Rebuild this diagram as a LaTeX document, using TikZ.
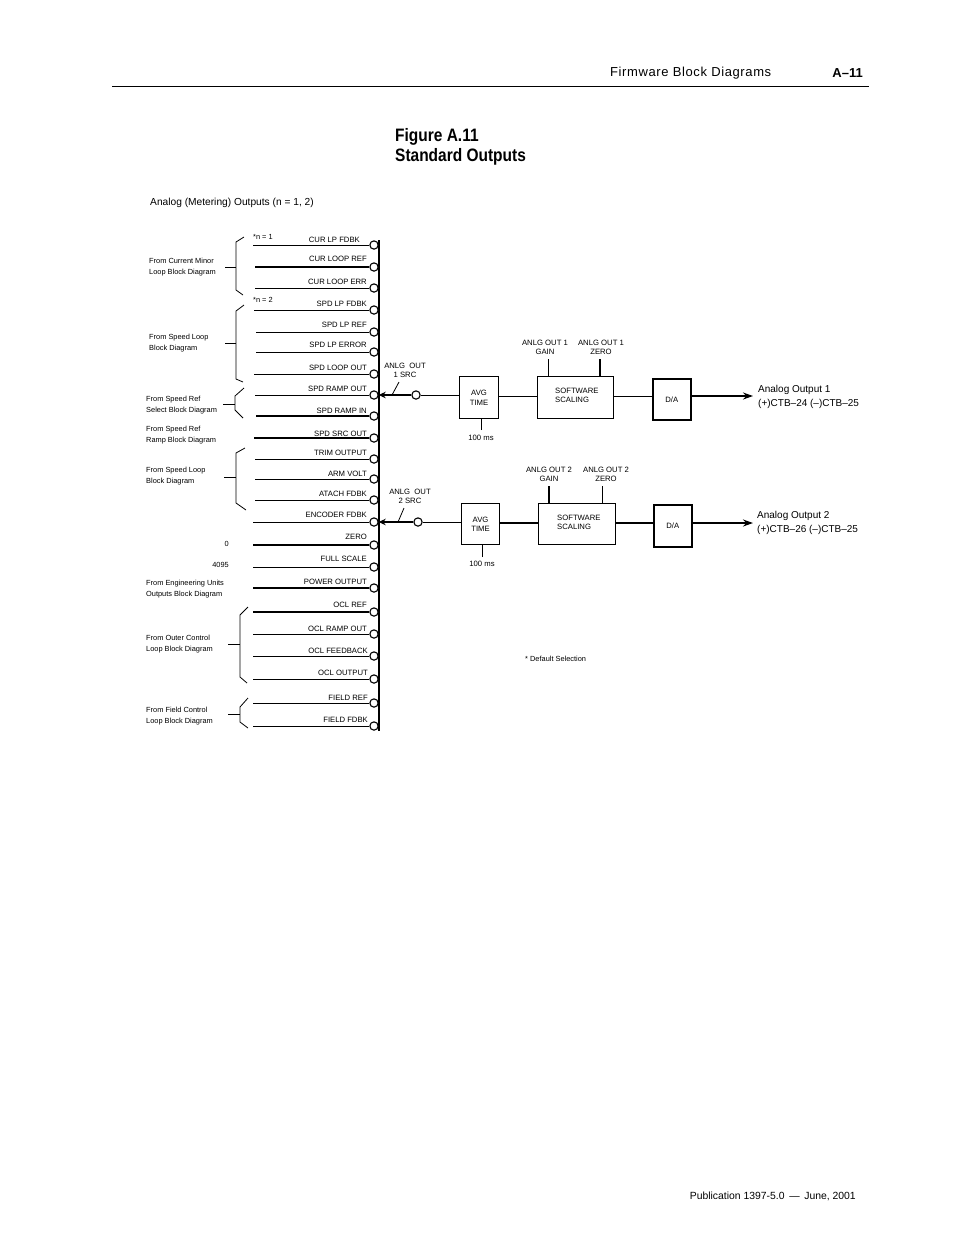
\documentclass[tikz,border=0pt]{standalone}
\usepackage{fontspec}
\setmainfont{Liberation Sans}
\newfontfamily\titlefont[FakeStretch=0.86]{Liberation Sans}
\usetikzlibrary{arrows.meta}
\tikzset{wire/.style={draw=black, line width=0.8pt},
         heavy/.style={draw=black, line width=1.6pt},
         tap/.style={circle, draw=black, line width=1.1pt, fill=white, minimum size=8.3pt, inner sep=0pt},
         lbl/.style={font=\fontsize{7.7}{9.5}\selectfont, inner sep=0pt, align=center, yshift=-0.4pt},
         note/.style={font=\fontsize{7.4}{11}\selectfont, inner sep=0pt, align=left, anchor=west, yshift=-0.4pt},
         block/.style={rectangle, draw=black, line width=1.1pt, anchor=north west, inner sep=0pt},
         darrow/.style={draw=black, line width=1.6pt, -{Stealth[length=10pt,width=7pt]}},
         sarrow/.style={draw=black, line width=1.3pt, -{Stealth[length=7pt,width=6.5pt]}}}

\begin{document}
\begin{tikzpicture}[x=1pt, y=-1pt]
\useasboundingbox (0,0) rectangle (954,1235);
 % page furniture
 \coordinate (rulel) at (112,86);
 \coordinate (ruler) at (869,86);
 \draw [line width=0.8pt] (rulel) -- (ruler);
 \node[anchor=west, inner sep=0pt, font=\fontsize{13}{15}\selectfont\addfontfeature{LetterSpace=4.7}] (head) at (610,73.5) {Firmware Block Diagrams};
 \node[anchor=east, inner sep=0pt, font=\bfseries\fontsize{13}{15}\selectfont] (page) at (863,73.5) {A--11};
 \node[anchor=north west, inner sep=0pt, align=left, font=\titlefont\bfseries\fontsize{18}{20}\selectfont] (title) at (395,128) {Figure A.11\\Standard Outputs};
 \node[anchor=west, inner sep=0pt, font=\fontsize{10.2}{12}\selectfont] (sub) at (150,203) {Analog (Metering) Outputs (n = 1, 2)};
 \node[anchor=east, inner sep=0pt, font=\fontsize{10.4}{12}\selectfont] (foot) at (856,1196) {Publication 1397-5.0 \,---\, June, 2001};

 % output bus
 \coordinate (bustop) at (379,240);
 \coordinate (busbot) at (379,731);
 \draw [line width=2pt] (bustop) -- (busbot);

 % rows: wire y / start x / style / label y / label end / label
 \foreach \r/\ya/\xa/\sty/\yb/\xb/\txt in {
   1/245/253/wire/239/360/CUR LP FDBK,
   2/267/255/heavy/258/367/CUR LOOP REF,
   3/288/255/wire/281/367/CUR LOOP ERR,
   4/310/254/wire/303/367/SPD LP FDBK,
   5/332/256/wire/324/367/SPD LP REF,
   6/352/256/wire/344/367/SPD LP ERROR,
   7/374/254/wire/367/367/SPD LOOP OUT,
   8/395/255/wire/388/367/SPD RAMP OUT,
   9/416/256/heavy/410/367/SPD RAMP IN,
   10/438/254/heavy/433/367/SPD SRC OUT,
   11/459/255/wire/452/367/TRIM OUTPUT,
   12/479/255/wire/473/367/ARM VOLT,
   13/500/255/wire/493/367/ATACH FDBK,
   14/522/253/wire/514/367/ENCODER FDBK,
   15/545/253/heavy/536/367/ZERO,
   16/567/253/wire/558/367/FULL SCALE,
   17/588/253/heavy/581/367/POWER OUTPUT,
   18/612/253/heavy/604/367/OCL REF,
   19/634/253/wire/628/367/OCL RAMP OUT,
   20/656/253/wire/650/368/OCL FEEDBACK,
   21/679/253/wire/672/368/OCL OUTPUT,
   22/703/253/wire/697/368/FIELD REF,
   23/726/253/wire/719/368/FIELD FDBK}{
   \coordinate (from\r) at (\xa,\ya);
   \node[tap] (tap\r) at (374,\ya) {};
   \draw [\sty] (from\r) -- (tap\r);
   \node[lbl, anchor=east] (sig\r) at (\xb,\yb) {\txt};
 }

 % source groups: top tip / spine x,ys / bottom tip / tick
 \foreach \g/\xt/\yt/\xs/\yu/\yd/\xe/\ye/\xk/\yk in {
   a/244/237/236/242/290/243/295/225/267,
   b/244/305/236/311/379/243/382/225/343,
   c/244/388/235/396/410/243/418/223/404,
   d/245/448/236/453/503/246/510/224/477,
   e/248/607/240/615/677/247/683/228/644,
   f/248/698/240/707/722/248/728/228/714}{
   \coordinate (tip\g) at (\xt,\yt);
   \coordinate (end\g) at (\xe,\ye);
   \coordinate (mid\g) at (\xs,\yk);
   \coordinate (tick\g) at (\xk,\yk);
   \draw [wire] (tip\g) -- (\xs,\yu) -- (\xs,\yd) -- (end\g);
   \draw [wire] (tick\g) -- (mid\g);
 }

 \node[note] (srca) at (149,266.5) {From Current Minor\\Loop Block Diagram};
 \node[note] (srcb) at (149,342.5) {From Speed Loop\\Block Diagram};
 \node[note] (srcc) at (146,404.5) {From Speed Ref\\Select Block Diagram};
 \node[note] (srcd) at (146,435) {From Speed Ref\\Ramp Block Diagram};
 \node[note] (srce) at (146,476) {From Speed Loop\\Block Diagram};
 \node[note] (srcf) at (146,588.5) {From Engineering Units\\Outputs Block Diagram};
 \node[note] (srcg) at (146,643.5) {From Outer Control\\Loop Block Diagram};
 \node[note] (srch) at (146,715.5) {From Field Control\\Loop Block Diagram};
 \node[note, anchor=east] (zero) at (229,544) {0};
 \node[note, anchor=east] (full) at (229,565) {4095};
 \node[note] (nsel1) at (253,237) {*n = 1};
 \node[note] (nsel2) at (253,300) {*n = 2};
 \node[note] (dflt) at (525,658) {* Default Selection};

 % analog output 1
 \node[block, minimum width=39pt, minimum height=42pt] (avg1) at (459,376) {};
 \node[block, minimum width=76pt, minimum height=42pt] (scale1) at (537,376) {};
 \node[block, minimum width=38pt, minimum height=41pt, line width=1.6pt] (da1) at (652,378) {};
 \node[lbl] (avt1) at (avg1.center) {AVG\\TIME};
 \node[lbl] (dat1) at (da1.center) {D/A};
 \node[lbl, anchor=west, align=left] (sw1) at (555,395) {SOFTWARE\\SCALING};
 \node[tap] (sel1) at (416,395) {};
 \coordinate (out1) at (753,396);
 \coordinate (ms1) at (481,430);
 \coordinate (gt1) at (548,359);
 \coordinate (zt1) at (600,359);
 \coordinate (sa1) at (392,395);
 \coordinate (sb1) at (399,382);
 \draw [sarrow] (sel1) -- (tap8.east);
 \draw [wire] (sa1) -- (sb1);
 \draw [wire] (avg1.west |- sel1) -- (sel1);
 \draw [wire] (avg1.east |- out1) -- (scale1.west |- out1);
 \draw [wire] (scale1.east |- out1) -- (da1.west |- out1);
 \draw [darrow] (da1.east |- out1) -- (out1);
 \draw [wire] (ms1) -- (ms1 |- avg1.south);
 \draw [wire] (gt1) -- (gt1 |- scale1.north);
 \draw [heavy] (zt1) -- (zt1 |- scale1.north);
 \node[lbl] (srcl1) at (405,370) {ANLG\ \ OUT\\1 SRC};
 \node[lbl] (gain1) at (545,347) {ANLG OUT 1\\GAIN};
 \node[lbl] (zlab1) at (601,347) {ANLG OUT 1\\ZERO};
 \node[lbl] (msl1) at (481,437) {100 ms};
 \node[anchor=north west, inner sep=0pt, align=left, font=\fontsize{10}{14}\selectfont] (ao1) at (758,385.5) {Analog Output 1\\(+)CTB--24 (--)CTB--25};

 % analog output 2
 \node[block, minimum width=38pt, minimum height=41pt] (avg2) at (461,503) {};
 \node[block, minimum width=77pt, minimum height=41pt] (scale2) at (538,503) {};
 \node[block, minimum width=38pt, minimum height=42pt, line width=1.6pt] (da2) at (653,504) {};
 \node[lbl] (avt2) at (avg2.center) {AVG\\TIME};
 \node[lbl] (dat2) at (da2.center) {D/A};
 \node[lbl, anchor=west, align=left] (sw2) at (557,522) {SOFTWARE\\SCALING};
 \node[tap] (sel2) at (418,522) {};
 \coordinate (out2) at (753,523);
 \coordinate (ms2) at (482,557);
 \coordinate (gt2) at (549,486);
 \coordinate (zt2) at (602,486);
 \coordinate (sa2) at (398,522);
 \coordinate (sb2) at (404,508);
 \draw [sarrow] (sel2) -- (tap14.east);
 \draw [wire] (sa2) -- (sb2);
 \draw [wire] (avg2.west |- sel2) -- (sel2);
 \draw [wire, line width=1.1pt] (avg2.east |- out2) -- (scale2.west |- out2);
 \draw [heavy] (scale2.east |- out2) -- (da2.west |- out2);
 \draw [darrow] (da2.east |- out2) -- (out2);
 \draw [wire] (ms2) -- (ms2 |- avg2.south);
 \draw [heavy] (gt2) -- (gt2 |- scale2.north);
 \draw [wire] (zt2) -- (zt2 |- scale2.north);
 \node[lbl] (srcl2) at (410,496) {ANLG\ \ OUT\\2 SRC};
 \node[lbl] (gain2) at (549,474) {ANLG OUT 2\\GAIN};
 \node[lbl] (zlab2) at (606,474) {ANLG OUT 2\\ZERO};
 \node[lbl] (msl2) at (482,563) {100 ms};
 \node[anchor=north west, inner sep=0pt, align=left, font=\fontsize{10}{14}\selectfont] (ao2) at (757,511.5) {Analog Output 2\\(+)CTB--26 (--)CTB--25};
\end{tikzpicture}
\end{document}
